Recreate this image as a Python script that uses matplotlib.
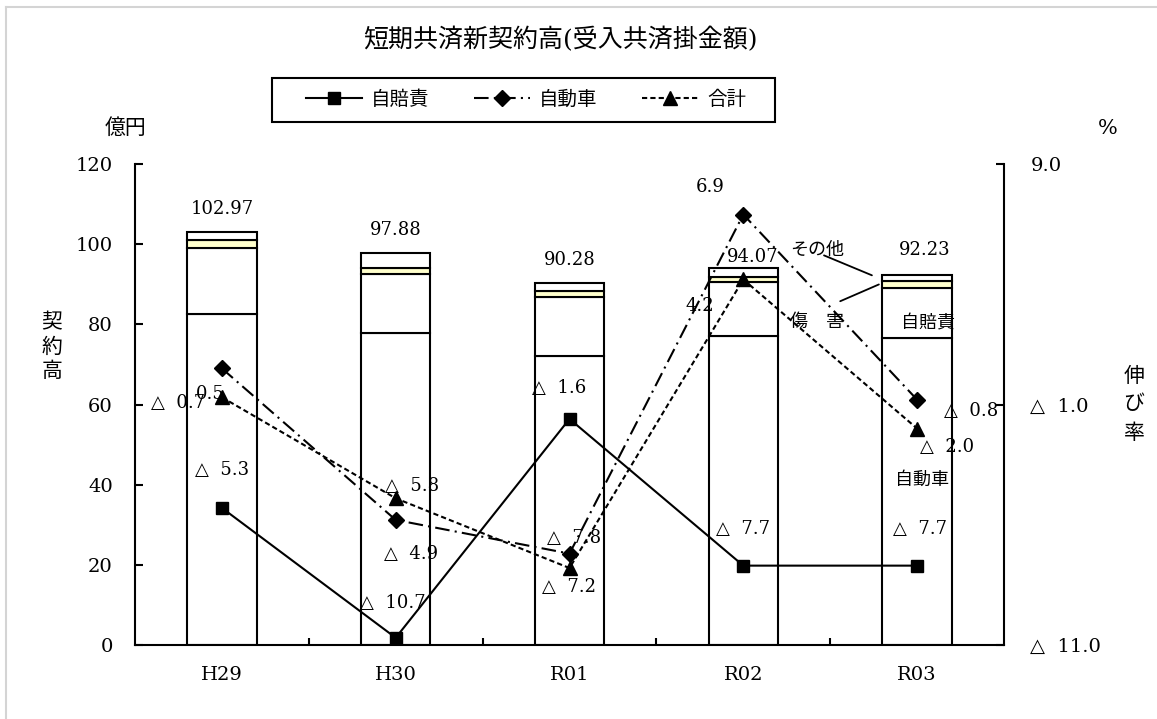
import matplotlib
matplotlib.use('Agg')
import matplotlib.pyplot as plt
from matplotlib.patches import Rectangle
from matplotlib.lines import Line2D
from matplotlib.ticker import FuncFormatter

plt.rcParams['font.family'] = ['DejaVu Serif', 'Noto Sans CJK JP']

years = ['H29', 'H30', 'R01', 'R02', 'R03']

# contract amount breakdown (oku yen)
jidosha = [82.6, 77.8, 72.2, 77.2, 76.6]
jibaiseki = [16.5, 14.7, 14.5, 13.4, 12.4]
shogai = [2.0, 1.6, 1.5, 1.3, 1.9]
sonota = [1.87, 3.78, 2.08, 2.17, 1.33]
totals = [102.97, 97.88, 90.28, 94.07, 92.23]

# growth rate (%)
rate_jibaiseki = [-5.3, -10.7, -1.6, -7.7, -7.7]
rate_jidosha = [0.5, -5.8, -7.2, 6.9, -0.8]
rate_total = [-0.7, -4.9, -7.8, 4.2, -2.0]

# label offsets in pixels (x right, y up)
off_totals = [(0, 23), (0, 23), (0, 23), (9, 11), (8, 25)]
off_jibaiseki = [(0, 38), (-3, 35), (-10, 31), (0, 37), (3, 37)]
off_jidosha = [(-12, -26), (16, 34), (-1, -33), (-33, 28), (54, -11)]
off_total = [(-44, -6), (15, -56), (5, 30), (-43, -27), (30, -18)]


def rate_text(v):
    if v < 0:
        return '△  %.1f' % abs(v)
    return '%.1f' % v


W, H = 1157, 719
fig = plt.figure(figsize=(W / 100, H / 100), dpi=100)
ax = fig.add_axes([135 / W, 1 - 645 / H, 869 / W, 481 / H])

x = list(range(len(years)))
bw = 0.4
lw = 1.5

# stacked bars
b1 = [a + b for a, b in zip(jidosha, jibaiseki)]
b2 = [a + b for a, b in zip(b1, shogai)]
ax.bar(x, jidosha, width=bw, color='white', edgecolor='black', linewidth=lw)
ax.bar(x, jibaiseki, width=bw, bottom=jidosha, color='white', edgecolor='black', linewidth=lw)
ax.bar(x, shogai, width=bw, bottom=b1, color='#ffffcc', edgecolor='black', linewidth=lw)
ax.bar(x, sonota, width=bw, bottom=b2, color='white', edgecolor='black', linewidth=lw)

for i, t in enumerate(totals):
    ax.annotate('%.2f' % t, (i, t), xytext=off_totals[i], textcoords='offset pixels',
                ha='center', va='center', fontsize=13)

ax.set_xlim(-0.5, 4.5)
ax.set_ylim(0, 120)
ax.set_yticks(range(0, 121, 20))
ax.set_xticks(x)
ax.set_xticklabels(years)
ax.set_xticks([0.5, 1.5, 2.5, 3.5], minor=True)
ax.tick_params(axis='x', which='major', length=0, labelsize=14, pad=15)
ax.tick_params(axis='x', which='minor', direction='in', length=5, width=lw)
ax.tick_params(axis='y', direction='in', length=6, width=lw, labelsize=14, pad=16)
for s in ['top', 'right']:
    ax.spines[s].set_visible(False)
for s in ['left', 'bottom']:
    ax.spines[s].set_linewidth(lw)

# labels inside / beside R03 bar
last = len(years) - 1
ax.text(4.063, 80.1, '自賠責', ha='center', va='center', fontsize=13)
ax.text(4.028, 41.2, '自動車', ha='center', va='center', fontsize=13)
ax.annotate('その他', xy=(last - bw / 2 - 0.06, totals[last]), xytext=(3.424, 98.55),
            ha='center', va='center', fontsize=13,
            arrowprops=dict(arrowstyle='-', lw=1.3, color='black', shrinkA=0, shrinkB=0,
                            patchA=None, relpos=(0.63, 0.2)))
ax.annotate('傷\u3000害', xy=(last - bw / 2 - 0.02, b1[last] + shogai[last] / 2),
            xytext=(3.424, 80.6), ha='center', va='center', fontsize=13,
            arrowprops=dict(arrowstyle='-', lw=1.3, color='black', shrinkA=0, shrinkB=0,
                            patchA=None, relpos=(0.93, 1.65)))

# growth rate lines on right axis
ax2 = ax.twinx()
ax2.set_ylim(-11, 9)
ax2.set_yticks([-11, -1, 9])
ax2.yaxis.set_major_formatter(FuncFormatter(lambda v, p: rate_text(v)))
ax2.tick_params(axis='y', direction='in', length=6, width=lw, labelsize=14, pad=19)
for s in ['top', 'left', 'bottom']:
    ax2.spines[s].set_visible(False)
ax2.spines['right'].set_linewidth(lw)

l1, = ax2.plot(x, rate_jibaiseki, color='black', lw=1.5, marker='s', markersize=9)
l2, = ax2.plot(x, rate_jidosha, color='black', lw=1.5, marker='D', markersize=8,
               linestyle=(0, (7, 2.5, 1, 2.5)))
l3, = ax2.plot(x, rate_total, color='black', lw=1.5, marker='^', markersize=10,
               linestyle=(0, (2.5, 1.5)))

for vals, offs in [(rate_jibaiseki, off_jibaiseki), (rate_jidosha, off_jidosha),
                   (rate_total, off_total)]:
    for i, v in enumerate(vals):
        ax2.annotate(rate_text(v), (i, v), xytext=offs[i], textcoords='offset pixels',
                     ha='center', va='center', fontsize=13)

# legend with its own frame
fig.legend([l1, l2, l3], ['自賠責', '自動車', '合計'], loc='center',
           bbox_to_anchor=(526 / W, 1 - 100 / H), ncol=3, frameon=False, fontsize=14,
           handlelength=2.9, handletextpad=0.45, columnspacing=2.3)
fig.add_artist(Rectangle((272 / W, 1 - 122 / H), 503 / W, 44 / H, transform=fig.transFigure,
                         fill=False, edgecolor='black', linewidth=lw))

# titles and axis captions
fig.text(560 / W, 1 - 40 / H, '短期共済新契約高(受入共済掛金額)', ha='center', va='center', fontsize=18)
fig.text(126 / W, 1 - 128 / H, '億円', ha='center', va='center', fontsize=15)
fig.text(52 / W, 1 - 347 / H, '契\n約\n高', ha='center', va='center', fontsize=15, linespacing=1.3)
fig.text(1108 / W, 1 - 128 / H, '%', ha='center', va='center', fontsize=15)
fig.text(1134 / W, 1 - 405 / H, '伸\nび\n率', ha='center', va='center', fontsize=15, linespacing=1.6)

# light sheet border
fig.add_artist(Line2D([6 / W, 6 / W], [0, 1 - 7 / H], color='#d4d4d4', lw=1.5))
fig.add_artist(Line2D([6 / W, 1], [1 - 7 / H, 1 - 7 / H], color='#d4d4d4', lw=1.5))

fig.savefig('out.png', dpi=100)
